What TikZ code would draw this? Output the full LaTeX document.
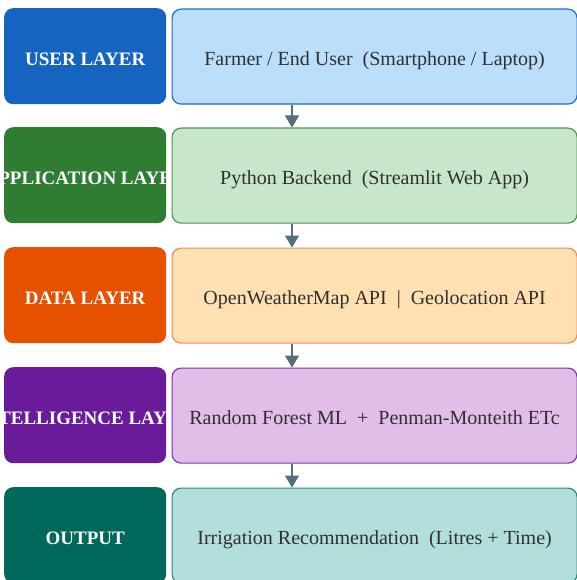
\documentclass[tikz,border=0pt]{standalone}
\usepackage{fontspec}
\setmainfont{Liberation Serif}[Ligatures=TeX]
\newfontfamily\layerface{Liberation Serif}[Ligatures=TeX]
\usetikzlibrary{arrows.meta}
\definecolor{userD}{HTML}{1565C0}\definecolor{userL}{HTML}{BBDEFB}\definecolor{userB}{HTML}{1E6FD0}
\definecolor{appD}{HTML}{2E7D32}\definecolor{appL}{HTML}{C8E6C9}\definecolor{appB}{HTML}{4A9A4E}
\definecolor{dataD}{HTML}{E65100}\definecolor{dataL}{HTML}{FFE0B2}\definecolor{dataB}{HTML}{F28A5E}
\definecolor{intD}{HTML}{6A1B9A}\definecolor{intL}{HTML}{E1BEE7}\definecolor{intB}{HTML}{8235AE}
\definecolor{outD}{HTML}{00695C}\definecolor{outL}{HTML}{B2DFDB}\definecolor{outB}{HTML}{2E8A7C}
\definecolor{arrowC}{HTML}{546E7A}
\definecolor{textC}{HTML}{303030}
\tikzset{
  layertext/.initial={},
  layer/.style={rounded corners=9pt, minimum width=162pt, minimum height=96pt,
    anchor=north west, inner sep=0pt, fill=#1,
    path picture={\node[anchor=center, text=white, inner sep=0pt,
        font=\layerface\bfseries\fontsize{19}{22}\selectfont]
      at ([yshift=-3pt]path picture bounding box.center) {\pgfkeysvalueof{/tikz/layertext}};}},
  detail/.style={rounded corners=9pt, minimum width=405pt, minimum height=95pt,
    anchor=north west, inner sep=0pt, fill=#1L, draw=#1B, line width=1.2pt,
    text=textC, font=\layerface\fontsize{20}{22}\selectfont,
    text height=22pt, text depth=4pt},
  flow/.style={draw=arrowC, line width=1.3pt, -{Triangle[length=12pt,width=14pt]}}
}
\begin{document}
\begin{tikzpicture}[x=1pt, y=-1pt]
\clip (0,0) rectangle (577,580);
\fill[white] (0,0) rectangle (577,580);
% layer labels (text clipped to the box)
\node[layer=userD, layertext={USER LAYER}] (l1) at (4,8) {};
\node[layer=appD, layertext={APPLICATION LAYER}] (l2) at (4,127) {};
\node[layer=dataD, layertext={DATA LAYER}] (l3) at (4,247) {};
\node[layer=intD, layertext={INTELLIGENCE LAYER}] (l4) at (4,367) {};
\node[layer=outD, layertext={OUTPUT}] (l5) at (4,487) {};
% layer contents
\node[detail=user] (r1) at (171.5,8.5) {Farmer / End User\ \ (Smartphone / Laptop)};
\node[detail=app] (r2) at (171.5,127.5) {Python Backend\ \ (Streamlit Web App)};
\node[detail=data] (r3) at (171.5,247.5) {OpenWeatherMap API\ \ |\ \ Geolocation API};
\node[detail=int] (r4) at (171.5,367.5) {Random Forest ML\ \ +\ \ Penman-Monteith ETc};
\node[detail=out] (r5) at (171.5,487.5) {Irrigation Recommendation\ \ (Litres + Time)};
% flow between layers
\coordinate (ax) at (292,0);
\draw[flow] (r1.south -| ax) -- (r2.north -| ax);
\draw[flow] (r2.south -| ax) -- (r3.north -| ax);
\draw[flow] (r3.south -| ax) -- (r4.north -| ax);
\draw[flow] (r4.south -| ax) -- (r5.north -| ax);
\end{tikzpicture}
\end{document}
